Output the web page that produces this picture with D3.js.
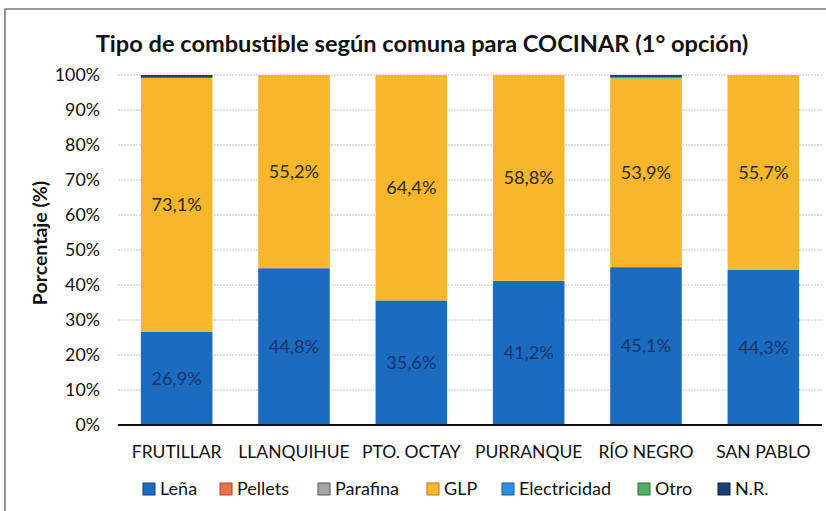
<!DOCTYPE html>
<html>
<head>
<meta charset="utf-8">
<script src="https://cdn.jsdelivr.net/npm/d3@7"></script>
<style>
  body { margin: 0; background: #fff; }
  svg { font-family: Lato, "Open Sans", sans-serif; }
</style>
</head>
<body>
<div id="chart"></div>
<script>
// comunas and fuel types
const comunas = ["FRUTILLAR", "LLANQUIHUE", "PTO. OCTAY", "PURRANQUE", "RÍO NEGRO", "SAN PABLO"];
const fuels = ["Leña", "Pellets", "Parafina", "GLP", "Electricidad", "Otro", "N.R."];

// percentages per fuel, in comuna order
const lena = [26.9, 44.8, 35.6, 41.2, 45.1, 44.3];
const pellets = [0, 0, 0, 0, 0, 0];
const parafina = [0, 0, 0, 0, 0, 0];
const glp = [73.1, 55.2, 64.4, 58.8, 53.9, 55.7];
const electricidad = [0, 0, 0, 0, 0, 0];
const otro = [0, 0, 0, 0, 0.3, 0];
const nr = [0.8, 0, 0, 0, 0.7, 0];

const yTicks = [0, 0.1, 0.2, 0.3, 0.4, 0.5, 0.6, 0.7, 0.8, 0.9, 1];

const colors = ["#1b6cc1", "#e8714f", "#a6a6a6", "#f8b62a", "#2f8fe2", "#55ad67", "#1d3f78"];
const strokes = ["#123f80", "#a84a30", "#555", "#b07a10", "#1a5a9a", "#2f7040", "#111f3c"];

const width = 826, height = 511;
const margin = { top: 75, right: 4, bottom: 86, left: 118 };

const svg = d3.select("#chart").append("svg")
  .attr("width", width)
  .attr("height", height);

// outer frame
svg.append("path")
  .attr("d", `M5,${height} V9 H${width}`)
  .attr("fill", "none")
  .attr("stroke", "#777")
  .attr("stroke-width", 1.5);

// build table for the stack
const series = [lena, pellets, parafina, glp, electricidad, otro, nr];
const table = comunas.map((c, i) => {
  const row = { comuna: c };
  fuels.forEach((f, j) => row[f] = series[j][i]);
  return row;
});

const stacked = d3.stack()
  .keys(fuels)
  .offset(d3.stackOffsetExpand)(table);

const x = d3.scaleBand()
  .domain(comunas)
  .range([margin.left, width - margin.right])
  .paddingInner(0.39)
  .paddingOuter(0.195);

const y = d3.scaleLinear()
  .domain([0, 1])
  .range([height - margin.bottom, margin.top]);

// gridlines
svg.append("g")
  .selectAll("line")
  .data(yTicks.slice(1))
  .join("line")
  .attr("x1", margin.left)
  .attr("x2", width - margin.right)
  .attr("y1", d => y(d))
  .attr("y2", d => y(d))
  .attr("stroke", "#c4c4c4")
  .attr("stroke-width", 1)
  .attr("stroke-dasharray", "2,1");

// y tick labels
svg.append("g")
  .selectAll("text")
  .data(yTicks)
  .join("text")
  .attr("x", 100)
  .attr("y", d => y(d))
  .attr("dy", "0.35em")
  .attr("text-anchor", "end")
  .style("font-size", "17.8px")
  .attr("fill", "#111")
  .text(d => d3.format(".0%")(d));

// bars
const layer = svg.append("g")
  .selectAll("g")
  .data(stacked)
  .join("g")
  .attr("fill", (d, i) => colors[i]);

layer.selectAll("rect")
  .data(d => d.map(v => ({ v, key: d.key })))
  .join("rect")
  .attr("x", d => x(d.v.data.comuna))
  .attr("width", x.bandwidth())
  .attr("y", d => y(d.v[1]))
  .attr("height", d => Math.max(0, y(d.v[0]) - y(d.v[1])));

// value labels for the big segments
stacked.forEach((s, i) => {
  svg.append("g")
    .selectAll("text")
    .data(s.filter(v => v.data[s.key] > 5))
    .join("text")
    .attr("x", v => x(v.data.comuna) + x.bandwidth() / 2)
    .attr("y", v => y((v[0] + v[1]) / 2))
    .attr("dy", "0.35em")
    .attr("text-anchor", "middle")
    .style("font-size", "18.2px")
    .attr("fill", s.key === "GLP" ? "#2a2a2a" : "#16346a")
    .text(v => d3.format(".1f")(v.data[s.key]).replace(".", ",") + "%");
});

// baseline
svg.append("line")
  .attr("x1", margin.left)
  .attr("x2", width - margin.right)
  .attr("y1", y(0))
  .attr("y2", y(0))
  .attr("stroke", "#111")
  .attr("stroke-width", 2);

// category labels
svg.append("g")
  .selectAll("text")
  .data(comunas)
  .join("text")
  .attr("x", d => x(d) + x.bandwidth() / 2)
  .attr("y", 452)
  .attr("dy", "0.35em")
  .attr("text-anchor", "middle")
  .style("font-size", "17.5px")
  .attr("fill", "#111")
  .text(d => d);

// title
svg.append("text")
  .attr("x", 422)
  .attr("y", 44)
  .attr("dy", "0.35em")
  .attr("text-anchor", "middle")
  .style("font-size", "23.6px")
  .style("font-weight", "bold")
  .attr("fill", "#111")
  .text("Tipo de combustible según comuna para COCINAR (1° opción)");

// y axis title
svg.append("text")
  .attr("transform", `translate(40,${(y(0) + y(1)) / 2 - 7}) rotate(-90)`)
  .attr("dy", "0.35em")
  .attr("text-anchor", "middle")
  .style("font-size", "19.5px")
  .style("font-weight", "bold")
  .attr("fill", "#111")
  .text("Porcentaje (%)");

// legend
const legendX = [143, 220, 318, 427, 502, 638, 718];
const legend = svg.append("g")
  .selectAll("g")
  .data(fuels)
  .join("g")
  .attr("transform", (d, i) => `translate(${legendX[i]},489)`);

legend.append("rect")
  .attr("x", 0)
  .attr("y", -6)
  .attr("width", 12)
  .attr("height", 12)
  .attr("fill", (d, i) => colors[i])
  .attr("stroke", (d, i) => strokes[i])
  .attr("stroke-width", 1);

legend.append("text")
  .attr("x", 17)
  .attr("y", 0)
  .attr("dy", "0.35em")
  .style("font-size", "18px")
  .attr("fill", "#111")
  .text(d => d);
</script>
</body>
</html>
